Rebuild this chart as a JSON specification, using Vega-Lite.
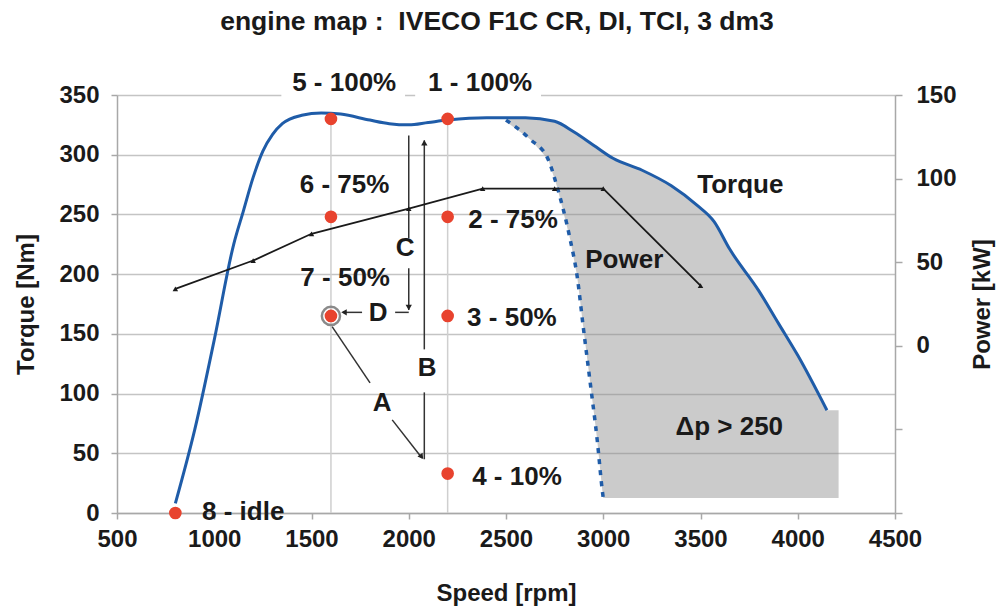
{
  "$schema": "https://vega.github.io/schema/vega-lite/v6.json",
  "width": 778,
  "height": 418,
  "autosize": {"type": "none"},
  "padding": {"left": 117, "top": 95, "right": 110, "bottom": 98},
  "background": "white",
  "title": {
    "text": "engine map :\u00a0 IVECO F1C CR, DI, TCI, 3 dm3",
    "font": "Liberation Sans",
    "fontSize": 26.5,
    "fontWeight": "bold",
    "color": "#1a1a1a",
    "anchor": "middle",
    "frame": "group",
    "offset": 35,
    "dx": -9
  },
  "config": {
    "view": {"stroke": null},
    "axis": {
      "labelFont": "Liberation Sans",
      "labelFontSize": 24,
      "labelFontWeight": "bold",
      "labelColor": "#1a1a1a",
      "titleFont": "Liberation Sans",
      "titleFontSize": 24,
      "titleFontWeight": "bold",
      "titleColor": "#1a1a1a",
      "domainColor": "#a8a8a8",
      "tickColor": "#a8a8a8",
      "gridColor": "#c4c4c4",
      "domainWidth": 1.5,
      "tickWidth": 1.5,
      "gridWidth": 1.5
    },
    "text": {"font": "Liberation Sans", "fontSize": 26, "fontWeight": "bold", "color": "#1a1a1a"}
  },
  "datasets": {
    "torque": [
      {"rpm": 800, "torque": 8}, {"rpm": 900, "torque": 70}, {"rpm": 1000, "torque": 145},
      {"rpm": 1100, "torque": 225}, {"rpm": 1150, "torque": 253}, {"rpm": 1200, "torque": 281},
      {"rpm": 1250, "torque": 303}, {"rpm": 1300, "torque": 317}, {"rpm": 1350, "torque": 326},
      {"rpm": 1450, "torque": 333}, {"rpm": 1550, "torque": 335}, {"rpm": 1650, "torque": 334},
      {"rpm": 1800, "torque": 329}, {"rpm": 1900, "torque": 326}, {"rpm": 2000, "torque": 325},
      {"rpm": 2100, "torque": 327}, {"rpm": 2200, "torque": 329}, {"rpm": 2400, "torque": 331},
      {"rpm": 2600, "torque": 331}, {"rpm": 2750, "torque": 328}, {"rpm": 2850, "torque": 319},
      {"rpm": 2950, "torque": 308}, {"rpm": 3050, "torque": 297}, {"rpm": 3200, "torque": 287},
      {"rpm": 3350, "torque": 274}, {"rpm": 3480, "torque": 258}, {"rpm": 3570, "torque": 244},
      {"rpm": 3650, "torque": 221}, {"rpm": 3800, "torque": 186}, {"rpm": 3900, "torque": 159},
      {"rpm": 4000, "torque": 132}, {"rpm": 4150, "torque": 86}
    ],
    "fill": [
      {"rpm": 2506, "hi": 331, "lo": 327}, {"rpm": 2624, "hi": 331, "lo": 313},
      {"rpm": 2717, "hi": 329, "lo": 296}, {"rpm": 2763, "hi": 327, "lo": 273},
      {"rpm": 2830, "hi": 321, "lo": 229}, {"rpm": 2866, "hi": 317, "lo": 198},
      {"rpm": 2897, "hi": 313, "lo": 156}, {"rpm": 2933, "hi": 310, "lo": 109},
      {"rpm": 2969, "hi": 306, "lo": 61}, {"rpm": 2995, "hi": 303, "lo": 19},
      {"rpm": 3000, "hi": 302, "lo": 12.5}, {"rpm": 3050, "hi": 297, "lo": 12.5},
      {"rpm": 3200, "hi": 287, "lo": 12.5}, {"rpm": 3350, "hi": 274, "lo": 12.5},
      {"rpm": 3480, "hi": 258, "lo": 12.5}, {"rpm": 3570, "hi": 244, "lo": 12.5},
      {"rpm": 3650, "hi": 221, "lo": 12.5}, {"rpm": 3800, "hi": 186, "lo": 12.5},
      {"rpm": 3900, "hi": 159, "lo": 12.5}, {"rpm": 4000, "hi": 132, "lo": 12.5},
      {"rpm": 4150, "hi": 86, "lo": 12.5}, {"rpm": 4210, "hi": 86, "lo": 12.5}
    ],
    "dotted": [
      {"rpm": 2500, "torque": 329}, {"rpm": 2624, "torque": 313}, {"rpm": 2717, "torque": 296},
      {"rpm": 2763, "torque": 273}, {"rpm": 2830, "torque": 229}, {"rpm": 2866, "torque": 198},
      {"rpm": 2897, "torque": 156}, {"rpm": 2933, "torque": 109}, {"rpm": 2969, "torque": 61},
      {"rpm": 2995, "torque": 19}, {"rpm": 3000, "torque": 12.5}
    ],
    "power": [
      {"rpm": 800, "power": 34}, {"rpm": 1200, "power": 51}, {"rpm": 1500, "power": 67},
      {"rpm": 2000, "power": 82}, {"rpm": 2380, "power": 94}, {"rpm": 2750, "power": 94},
      {"rpm": 3000, "power": 94}, {"rpm": 3500, "power": 36}
    ],
    "points": [
      {"rpm": 2200, "torque": 330, "id": "1"}, {"rpm": 2200, "torque": 248, "id": "2"},
      {"rpm": 2200, "torque": 165, "id": "3"}, {"rpm": 2200, "torque": 33, "id": "4"},
      {"rpm": 1600, "torque": 330, "id": "5"}, {"rpm": 1600, "torque": 248, "id": "6"},
      {"rpm": 1600, "torque": 165, "id": "7"}, {"rpm": 800, "torque": 0, "id": "8"}
    ],
    "vlines": [
      {"rpm": 1600, "torque": 0, "torque2": 330},
      {"rpm": 2200, "torque": 0, "torque2": 330}
    ],
    "mask": [
      {"rpm": 1345, "rpm2": 1981, "torque": 350},
      {"rpm": 2033, "rpm2": 2680, "torque": 350}
    ],
    "segs": [
      {"rpm": 2000, "rpm2": 2000, "torque": 316, "torque2": 230},
      {"rpm": 2000, "rpm2": 2000, "torque": 205, "torque2": 170},
      {"rpm": 2000, "rpm2": 1930, "torque": 168, "torque2": 168},
      {"rpm": 1760, "rpm2": 1662, "torque": 168, "torque2": 168},
      {"rpm": 2080, "rpm2": 2080, "torque": 312, "torque2": 137},
      {"rpm": 2080, "rpm2": 2080, "torque": 101, "torque2": 45},
      {"rpm": 1606, "rpm2": 1801, "torque": 156, "torque2": 109},
      {"rpm": 1915, "rpm2": 2068, "torque": 78, "torque2": 46}
    ],
    "heads": [
      {"rpm": 2000, "torque": 172, "dir": "down"},
      {"rpm": 1667, "torque": 168, "dir": "left"},
      {"rpm": 2080, "torque": 310, "dir": "up"},
      {"rpm": 2066, "torque": 47, "dir": "downright"}
    ],
    "labels": [
      {"rpm": 1668, "torque": 360, "text": "5 - 100%", "anchor": "c"},
      {"rpm": 2367, "torque": 360, "text": "1 - 100%", "anchor": "c"},
      {"rpm": 1670, "torque": 275, "text": "6 - 75%", "anchor": "c"},
      {"rpm": 1673, "torque": 197, "text": "7 - 50%", "anchor": "c"},
      {"rpm": 2306, "torque": 245, "text": "2 - 75%", "anchor": "l"},
      {"rpm": 2300, "torque": 163, "text": "3 - 50%", "anchor": "l"},
      {"rpm": 2326, "torque": 30, "text": "4 - 10%", "anchor": "l"},
      {"rpm": 937, "torque": 1, "text": "8 - idle", "anchor": "l"},
      {"rpm": 1981, "torque": 222, "text": "C", "anchor": "c"},
      {"rpm": 1843, "torque": 167.5, "text": "D", "anchor": "c"},
      {"rpm": 2095, "torque": 121, "text": "B", "anchor": "c"},
      {"rpm": 1863, "torque": 92, "text": "A", "anchor": "c"},
      {"rpm": 3705, "torque": 275, "text": "Torque", "anchor": "c"},
      {"rpm": 3108, "torque": 212, "text": "Power", "anchor": "c"},
      {"rpm": 3648, "torque": 72, "text": "Δp > 250", "anchor": "c"}
    ]
  },
  "layer": [
    {
      "layer": [
        {
          "data": {"name": "fill"},
          "mark": {"type": "area", "color": "#8c8c8c", "opacity": 0.45},
          "encoding": {
            "x": {
              "field": "rpm", "type": "quantitative",
              "scale": {"domain": [500, 4500], "nice": false},
              "axis": {
                "title": "Speed [rpm]",
                "values": [500, 1000, 1500, 2000, 2500, 3000, 3500, 4000, 4500],
                "format": "d",
                "grid": false, "tickSize": 6, "labelPadding": 8, "titlePadding": 30,
                "labelFlush": false
              }
            },
            "y": {
              "field": "hi", "type": "quantitative",
              "scale": {"domain": [0, 350], "nice": false},
              "axis": {
                "title": "Torque [Nm]",
                "values": [0, 50, 100, 150, 200, 250, 300, 350],
                "grid": true, "tickSize": 6, "labelPadding": 12, "titlePadding": 20
              }
            },
            "y2": {"field": "lo"}
          }
        },
        {
          "data": {"name": "vlines"},
          "mark": {"type": "rule", "color": "#cfcfcf", "strokeWidth": 1.5},
          "encoding": {
            "x": {"field": "rpm", "type": "quantitative"},
            "y": {"field": "torque", "type": "quantitative"},
            "y2": {"field": "torque2"}
          }
        },
        {
          "data": {"name": "mask"},
          "mark": {"type": "rule", "color": "white", "strokeWidth": 4},
          "encoding": {
            "x": {"field": "rpm", "type": "quantitative"},
            "x2": {"field": "rpm2"},
            "y": {"field": "torque", "type": "quantitative"}
          }
        },
        {
          "data": {"name": "torque"},
          "mark": {"type": "line", "color": "#1f5ca8", "strokeWidth": 3, "interpolate": "monotone"},
          "encoding": {
            "x": {"field": "rpm", "type": "quantitative"},
            "y": {"field": "torque", "type": "quantitative"}
          }
        },
        {
          "data": {"name": "dotted"},
          "mark": {"type": "line", "color": "#1f5ca8", "strokeWidth": 3.5, "strokeDash": [5, 6], "interpolate": "monotone"},
          "encoding": {
            "x": {"field": "rpm", "type": "quantitative"},
            "y": {"field": "torque", "type": "quantitative"}
          }
        },
        {
          "data": {"name": "segs"},
          "mark": {"type": "rule", "color": "#333333", "strokeWidth": 1.5},
          "encoding": {
            "x": {"field": "rpm", "type": "quantitative"},
            "x2": {"field": "rpm2"},
            "y": {"field": "torque", "type": "quantitative"},
            "y2": {"field": "torque2"}
          }
        },
        {
          "data": {"name": "heads"},
          "transform": [{"filter": "datum.dir !== 'downright'"}],
          "mark": {"type": "point", "filled": true, "color": "#222222", "size": 40, "opacity": 1},
          "encoding": {
            "x": {"field": "rpm", "type": "quantitative"},
            "y": {"field": "torque", "type": "quantitative"},
            "shape": {
              "field": "dir", "type": "nominal", "legend": null,
              "scale": {"domain": ["down", "up", "left"], "range": ["triangle-down", "triangle-up", "triangle-left"]}
            }
          }
        },
        {
          "data": {"name": "heads"},
          "transform": [{"filter": "datum.dir === 'downright'"}],
          "mark": {"type": "point", "filled": true, "color": "#222222", "size": 40, "opacity": 1, "shape": "triangle-down", "angle": 324},
          "encoding": {
            "x": {"field": "rpm", "type": "quantitative"},
            "y": {"field": "torque", "type": "quantitative"}
          }
        },
        {
          "data": {"name": "points"},
          "transform": [{"filter": "datum.id === '7'"}],
          "mark": {"type": "point", "filled": false, "size": 330, "color": "#8a8a8a", "strokeWidth": 2.5, "opacity": 1},
          "encoding": {
            "x": {"field": "rpm", "type": "quantitative"},
            "y": {"field": "torque", "type": "quantitative"}
          }
        },
        {
          "data": {"name": "points"},
          "mark": {"type": "point", "filled": true, "size": 160, "color": "#e8432e", "opacity": 1},
          "encoding": {
            "x": {"field": "rpm", "type": "quantitative"},
            "y": {"field": "torque", "type": "quantitative"}
          }
        },
        {
          "data": {"name": "labels"},
          "transform": [{"filter": "datum.anchor === 'c'"}],
          "mark": {"type": "text", "align": "center", "baseline": "middle"},
          "encoding": {
            "x": {"field": "rpm", "type": "quantitative"},
            "y": {"field": "torque", "type": "quantitative"},
            "text": {"field": "text"}
          }
        },
        {
          "data": {"name": "labels"},
          "transform": [{"filter": "datum.anchor === 'l'"}],
          "mark": {"type": "text", "align": "left", "baseline": "middle"},
          "encoding": {
            "x": {"field": "rpm", "type": "quantitative"},
            "y": {"field": "torque", "type": "quantitative"},
            "text": {"field": "text"}
          }
        }
      ]
    },
    {
      "data": {"name": "power"},
      "layer": [
        {
          "mark": {"type": "line", "color": "#1a1a1a", "strokeWidth": 1.8},
          "encoding": {
            "x": {"field": "rpm", "type": "quantitative"},
            "y": {
              "field": "power", "type": "quantitative",
              "scale": {"domain": [-100, 150], "nice": false},
              "axis": {
                "orient": "right",
                "title": "Power [kW]",
                "values": [-100, -50, 0, 50, 100, 150],
                "labelExpr": "datum.value < 0 ? '' : datum.label",
                "grid": false, "tickSize": 7, "labelPadding": 14,
                "titleAngle": 270, "titleBaseline": "top", "titlePadding": 14
              }
            }
          }
        },
        {
          "mark": {"type": "point", "shape": "triangle-up", "filled": true, "size": 30, "color": "#1a1a1a", "opacity": 1},
          "encoding": {
            "x": {"field": "rpm", "type": "quantitative"},
            "y": {"field": "power", "type": "quantitative"}
          }
        }
      ]
    }
  ],
  "resolve": {"scale": {"y": "independent"}}
}
